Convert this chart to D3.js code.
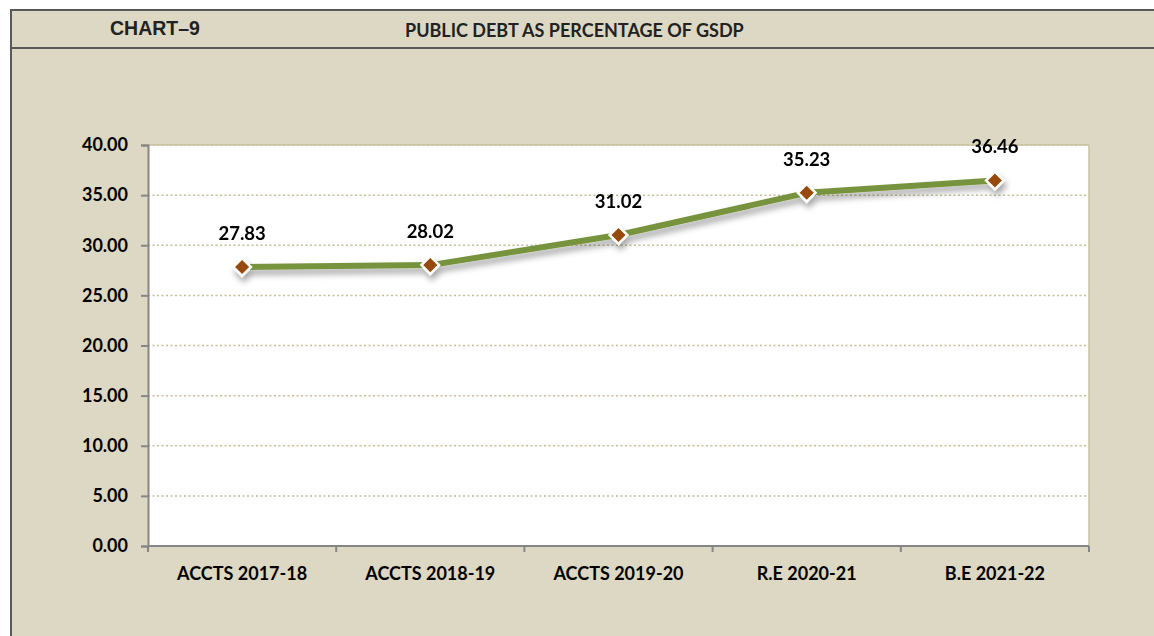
<!DOCTYPE html>
<html>
<head>
<meta charset="utf-8">
<script src="https://cdn.jsdelivr.net/npm/d3@7"></script>
<style>
    body { margin: 0; background: #ffffff; }
    svg text { font-family: Lato, "Open Sans", sans-serif; font-weight: bold; fill: #000; }
    svg text.chartno { font-family: "Liberation Sans", Arial, sans-serif; }
</style>
</head>
<body>
<svg id="chart" width="1154" height="636"></svg>
<script>
// chart data
var categories = ["ACCTS 2017-18", "ACCTS 2018-19", "ACCTS 2019-20", "R.E 2020-21", "B.E 2021-22"];
var debtShare = [27.83, 28.02, 31.02, 35.23, 36.46];
var yTicks = [0, 5, 10, 15, 20, 25, 30, 35, 40];

/**
 * Draw the line chart.
 */
function drawChart() {
    var svg = d3.select("#chart");

    // beige panel with frame lines
    svg.append("rect").attr("x", 11).attr("y", 10).attr("width", 1143).attr("height", 626).attr("fill", "#DDD8C3");
    svg.append("line").attr("x1", 11).attr("x2", 1154).attr("y1", 10).attr("y2", 10).attr("stroke", "#595959").attr("stroke-width", 2);
    svg.append("line").attr("x1", 11).attr("x2", 1154).attr("y1", 48).attr("y2", 48).attr("stroke", "#595959").attr("stroke-width", 2);
    svg.append("line").attr("x1", 11).attr("x2", 11).attr("y1", 9).attr("y2", 636).attr("stroke", "#595959").attr("stroke-width", 2);

    // titles
    svg.append("text").attr("class", "chartno").attr("x", 110).attr("y", 35).text("CHART\u20139")
        .style("font-size", "19.5px").style("fill", "#222");
    svg.append("text").attr("x", 405).attr("y", 37).text("PUBLIC DEBT AS PERCENTAGE OF GSDP")
        .style("font-size", "18px").style("fill", "#222");

    // plot area
    var pLeft = 148, pRight = 1089, pTop = 145, pBottom = 546;

    var x = d3.scaleBand().domain(categories).range([pLeft, pRight]);
    var y = d3.scaleLinear().domain([0, 40]).range([pBottom, pTop]);

    svg.append("rect").attr("x", pLeft).attr("y", pTop).attr("width", pRight - pLeft).attr("height", pBottom - pTop)
        .attr("fill", "#ffffff");

    // dotted grid
    svg.append("g").selectAll("line").data(yTicks.filter(d => d > 0)).join("line")
        .attr("x1", pLeft).attr("x2", pRight)
        .attr("y1", d => y(d)).attr("y2", d => y(d))
        .attr("stroke", "#C4BD97").attr("stroke-width", 1.5).attr("stroke-dasharray", "2,2.5");

    // plot border top/right
    svg.append("line").attr("x1", pLeft).attr("x2", pRight).attr("y1", pTop).attr("y2", pTop).attr("stroke", "#C9C3A3").attr("stroke-width", 1.5);
    svg.append("line").attr("x1", pRight).attr("x2", pRight).attr("y1", pTop).attr("y2", pBottom).attr("stroke", "#C9C3A3").attr("stroke-width", 1.5);

    // y axis
    var yAxis = svg.append("g").attr("transform", "translate(" + pLeft + ",0)")
        .call(d3.axisLeft(y).tickValues(yTicks).tickFormat(d3.format(".2f")).tickSize(7).tickPadding(13));
    yAxis.select(".domain").attr("stroke", "#868686").attr("stroke-width", 2);
    yAxis.selectAll(".tick line").attr("stroke", "#868686").attr("stroke-width", 2);
    yAxis.selectAll("text").style("font-size", "18px").style("font-family", "Lato, sans-serif").attr("fill", "#000");

    // x axis with ticks at band edges
    var xAxisG = svg.append("g");
    xAxisG.append("line").attr("x1", pLeft).attr("x2", pRight).attr("y1", pBottom).attr("y2", pBottom)
        .attr("stroke", "#868686").attr("stroke-width", 2);
    var edges = categories.map(c => x(c)).concat([pRight]);
    xAxisG.selectAll(".edge").data(edges).join("line")
        .attr("x1", d => d).attr("x2", d => d).attr("y1", pBottom).attr("y2", pBottom + 6)
        .attr("stroke", "#868686").attr("stroke-width", 2);
    xAxisG.selectAll(".cat").data(categories).join("text")
        .attr("x", d => x(d) + x.bandwidth() / 2).attr("y", 580)
        .attr("text-anchor", "middle").style("font-size", "18px").text(d => d);

    // shadow filter
    var defs = svg.append("defs");
    var f = defs.append("filter").attr("id", "shadow").attr("x", "-10%").attr("y", "-50%").attr("width", "120%").attr("height", "200%");
    f.append("feDropShadow").attr("dx", 2).attr("dy", 5).attr("stdDeviation", 3)
        .attr("flood-color", "#000").attr("flood-opacity", 0.35);

    var pts = categories.map((c, i) => [x(c) + x.bandwidth() / 2, y(debtShare[i])]);

    var g = svg.append("g").attr("filter", "url(#shadow)");
    g.append("path").attr("d", d3.line()(pts))
        .attr("fill", "none").attr("stroke", "#77933C").attr("stroke-width", 6).attr("stroke-linejoin", "round");

    var diamond = d3.symbol().type(d3.symbolSquare).size(155);
    g.selectAll(".pt").data(pts).join("path")
        .attr("d", diamond)
        .attr("transform", d => "translate(" + d[0] + "," + d[1] + ") rotate(45)")
        .attr("fill", "#984807").attr("stroke", "#ffffff").attr("stroke-width", 2.5);

    // value labels
    svg.selectAll(".lbl").data(pts).join("text")
        .attr("x", d => d[0]).attr("y", d => d[1] - 27)
        .attr("text-anchor", "middle").style("font-size", "18.5px")
        .text((d, i) => debtShare[i].toFixed(2));
}

drawChart();
</script>
</body>
</html>
